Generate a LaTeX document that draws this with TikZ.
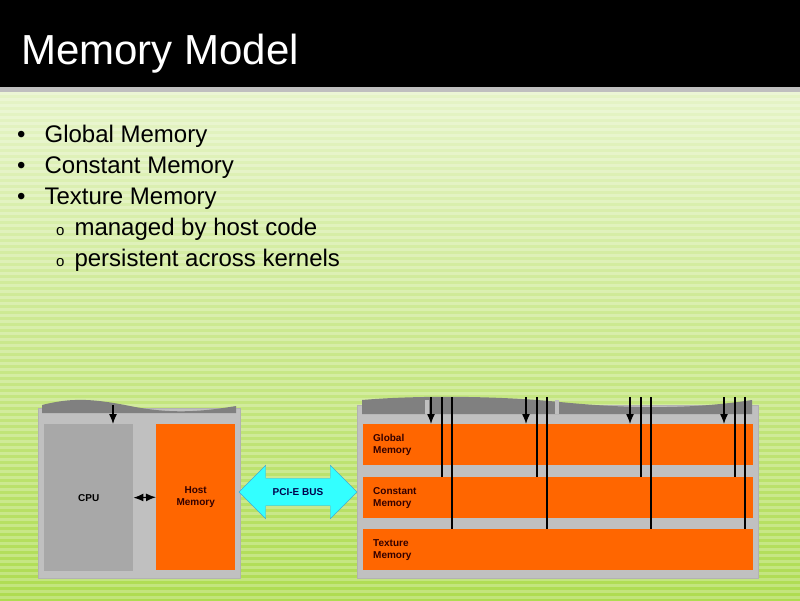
\documentclass[tikz,border=0pt]{standalone}
\usepackage{fontspec}
\setmainfont{Liberation Sans}
\usetikzlibrary{positioning, arrows.meta, shapes.arrows, calc}

\definecolor{memorange}{HTML}{FF6600}
\definecolor{panelgray}{HTML}{C0C0C0}
\definecolor{cpugray}{HTML}{A8A8A8}
\definecolor{wavegray}{HTML}{808080}
\definecolor{busblue}{HTML}{33FFFF}
\definecolor{greentop}{HTML}{E6F4C8}
\definecolor{greenbot}{HTML}{AEDC50}

\begin{document}
\begin{tikzpicture}[
    x=1pt, y=-1pt,
    >={Latex[length=10pt, width=8pt]},
    % Styles
    panel/.style={ % gray board
        rectangle,
        fill=panelgray,
        draw=gray!60,
        anchor=north west,
        inner sep=0pt
    },
    mem/.style={ % memory block
        rectangle,
        fill=memorange,
        anchor=north west,
        inner sep=0pt,
        font=\bfseries\fontsize{10}{12}\selectfont,
        text=black!80!red
    },
    memlabel/.style={ % label inside a memory strip
        anchor=west,
        align=left,
        inner sep=0pt,
        font=\bfseries\fontsize{10}{12}\selectfont,
        text=black!80!red
    },
    bullet/.style={ % slide text line
        anchor=base west,
        font=\fontsize{24}{27}\selectfont,
        inner sep=0pt
    },
    wire/.style={
        line width=1.3pt
    }
]
    \useasboundingbox (0,0) rectangle (800,600);

    % Background
    \shade[top color=greentop, bottom color=greenbot] (0,88) rectangle (800,600);
    \foreach \y in {92,98,...,600} {
        \fill[white, opacity=0.25] (0,\y) rectangle (800,\y+3);
    }
    \fill[black] (0,0) rectangle (800,87);
    \fill[gray!50] (0,87) rectangle (800,92);
    \node[anchor=base west, text=white, font=\fontsize{42}{44}\selectfont, inner sep=0pt] (title) at (21,64) {Memory Model};

    % Bullet list
    \node[bullet] (b1) at (17,142) {\textbullet\hspace{19pt}Global Memory};
    \node[bullet] (b2) at (17,173) {\textbullet\hspace{19pt}Constant Memory};
    \node[bullet] (b3) at (17,204) {\textbullet\hspace{19pt}Texture Memory};
    \node[bullet] (b4) at (56,235) {{\fontsize{15}{15}\selectfont o}\hspace{10pt}managed by host code};
    \node[bullet] (b5) at (56,266) {{\fontsize{15}{15}\selectfont o}\hspace{10pt}persistent across kernels};

    % Host side
    \node[panel, minimum width=202, minimum height=170] (host) at (38,408) {};
    \fill[wavegray] (42,405) .. controls (70,398) and (90,398) .. (130,406)
        .. controls (170,414) and (200,412) .. (236,406) -- (236,413) -- (42,413) -- cycle;
    \node[mem, fill=cpugray, minimum width=89, minimum height=147, text=black] (cpu) at (44,424) {CPU};
    \node[mem, minimum width=79, minimum height=146, align=center] (hmem) at (156,424) {Host\\Memory};
    \draw[<->, wire] (cpu.east) -- (hmem.west);
    \coordinate (cpuin) at (113,405);
    \draw[->, wire] (cpuin) -- (cpu.north -| cpuin);

    % Bus
    \node[double arrow, fill=busblue, draw=cyan!70!gray, minimum height=118,
        double arrow head extend=13pt, double arrow head indent=0pt, inner xsep=2pt, inner ysep=10pt,
        font=\bfseries\fontsize{10}{12}\selectfont, text=black!70!blue] (bus) at (298,492) {PCI-E BUS};

    % Device side
    \node[panel, minimum width=401, minimum height=173] (dev) at (357,405) {};
    \fill[wavegray] (362,400) .. controls (420,395) and (500,396) .. (560,402)
        .. controls (640,410) and (700,408) .. (752,400) -- (752,414) -- (362,414) -- cycle;
    \foreach \x in {425,555} {
        \fill[panelgray] (\x,400) rectangle (\x+4,414);
    }
    \node[mem, minimum width=390, minimum height=41] (gmem) at (363,424) {};
    \node[mem, minimum width=390, minimum height=41] (cmem) at (363,477) {};
    \node[mem, minimum width=390, minimum height=41] (tmem) at (363,529) {};
    \node[memlabel, right=10pt of gmem.west] (glab) {Global\\Memory};
    \node[memlabel, right=10pt of cmem.west] (clab) {Constant\\Memory};
    \node[memlabel, right=10pt of tmem.west] (tlab) {Texture\\Memory};

    % Accesses from the multiprocessors
    \foreach \x in {431,526,630,724} {
        \coordinate (top\x) at (\x,397);
        \draw[->, wire] (top\x) -- (gmem.north -| top\x);
        \coordinate (ca\x) at (\x+11,397);
        \draw[wire] (ca\x) -- (cmem.north -| ca\x);
        \coordinate (ta\x) at (\x+21,397);
        \draw[wire] (ta\x) -- (tmem.north -| ta\x);
    }
\end{tikzpicture}
\end{document}
